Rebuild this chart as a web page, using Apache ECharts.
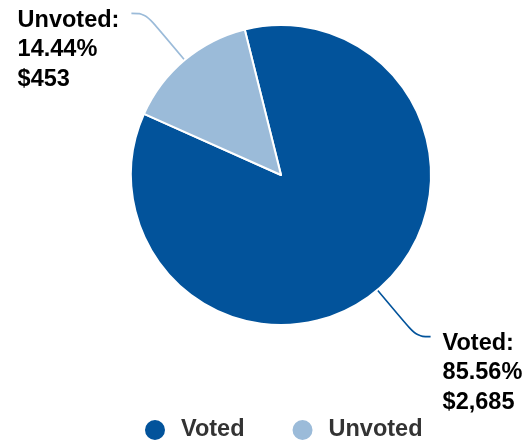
<!DOCTYPE html>
<html>
<head>
<meta charset="utf-8">
<script src="https://cdn.jsdelivr.net/npm/echarts@6/dist/echarts.min.js"></script>
<style>
  html, body { margin: 0; padding: 0; background: #ffffff; }
  #chart { width: 531px; height: 440px; }
</style>
</head>
<body>
<div id="chart"></div>
<script>
// Spending split between voted and unvoted items
const categories = ['Voted', 'Unvoted'];
const amounts = [2685, 453];
const sliceColors = ['#02539b', '#9bbbd9'];

const FONT = '"Liberation Sans", Arial, Helvetica, sans-serif';

const chart = echarts.init(document.getElementById('chart'), null, { renderer: 'canvas' });

const pieData = categories.map(function (name, i) {
  return { name: name, value: amounts[i], itemStyle: { color: sliceColors[i] } };
});

chart.setOption({
  animation: false,
  backgroundColor: '#ffffff',
  legend: {
    bottom: -2,
    left: 143,
    padding: 0,
    icon: 'circle',
    itemWidth: 22,
    itemHeight: 22,
    itemGap: 46,
    data: categories,
    textStyle: {
      fontFamily: FONT,
      fontSize: 23.5,
      fontWeight: 'bold',
      color: '#333333',
      padding: [0, 0, 0, 10]
    }
  },
  series: [{
    type: 'pie',
    center: [281, 175],
    radius: [0, 150],
    startAngle: 104,
    clockwise: true,
    data: pieData,
    itemStyle: { borderColor: '#ffffff', borderWidth: 2 },
    emphasis: { disabled: true },
    label: {
      show: true,
      position: 'outside',
      fontFamily: FONT,
      fontSize: 23.5,
      fontWeight: 'bold',
      color: '#000000',
      lineHeight: 29.5,
      formatter: function (p) {
        return p.name + ':\n' + p.percent.toFixed(2) + '%\n$' + p.value.toLocaleString('en-US');
      }
    },
    labelLine: {
      show: true,
      length: 61,
      length2: 14,
      smooth: 0.4,
      lineStyle: { width: 1.6 }
    },
    // Hang each label just past the end of its leader line, text left-aligned
    labelLayout: function (p) {
      const pts = p.labelLinePoints;
      if (!pts) return {};
      const end = pts[pts.length - 1];
      const onLeft = end[0] < pts[pts.length - 2][0];
      const w = p.labelRect.width;
      return {
        x: onLeft ? end[0] - 12 - w : end[0] + 12,
        y: end[1] - 8,
        align: 'left',
        verticalAlign: 'top',
        labelLinePoints: pts
      };
    }
  }]
});
</script>
</body>
</html>
